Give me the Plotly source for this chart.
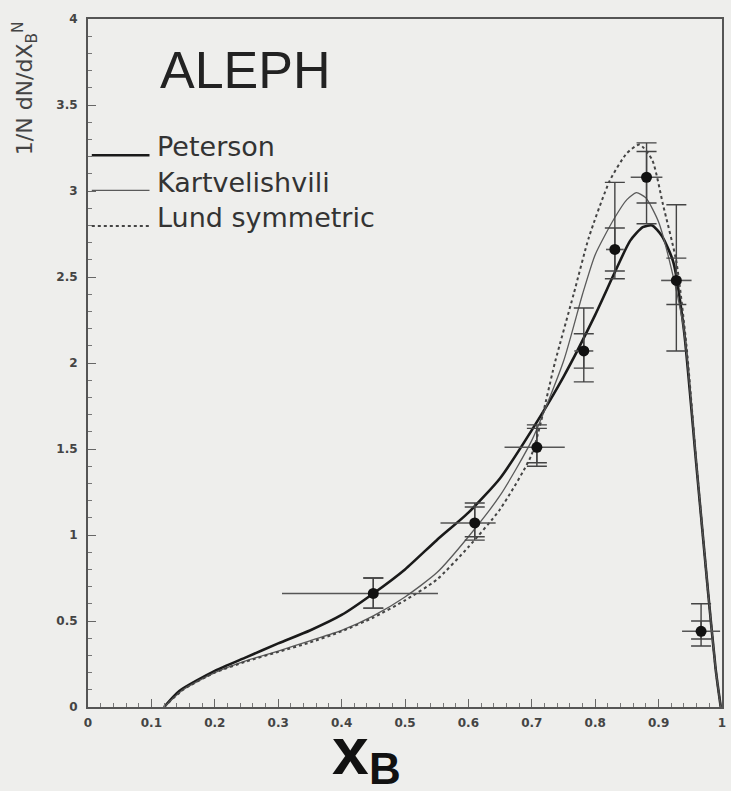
import plotly.graph_objects as go

# ---- measured data points (ALEPH) ----
xb = [0.45, 0.61, 0.708, 0.782, 0.831, 0.881, 0.928, 0.967]
yb = [0.66, 1.07, 1.51, 2.07, 2.66, 3.08, 2.48, 0.44]
x_lo = [0.144, 0.054, 0.051, 0.015, 0.014, 0.025, 0.024, 0.03]
x_hi = [0.102, 0.033, 0.044, 0.015, 0.014, 0.025, 0.024, 0.03]
stat_up = [0.09, 0.093, 0.11, 0.10, 0.125, 0.15, 0.13, 0.06]
stat_dn = [0.085, 0.08, 0.09, 0.10, 0.125, 0.15, 0.14, 0.045]
tot_up = [0.09, 0.116, 0.13, 0.25, 0.39, 0.20, 0.44, 0.16]
tot_dn = [0.085, 0.10, 0.11, 0.18, 0.17, 0.27, 0.41, 0.085]

# ---- model curves ----
pet_x = [0.12, 0.144, 0.2, 0.25, 0.3, 0.35, 0.4, 0.45, 0.5, 0.55, 0.6, 0.65, 0.7, 0.75,
         0.8, 0.83, 0.855, 0.875, 0.89, 0.905, 0.923, 0.94, 0.959, 0.978, 0.99, 0.998]
pet_y = [0.0, 0.093, 0.21, 0.29, 0.37, 0.445, 0.535, 0.66, 0.8, 0.97, 1.13, 1.33, 1.61, 1.92,
         2.28, 2.52, 2.71, 2.79, 2.80, 2.74, 2.59, 2.19, 1.43, 0.67, 0.22, 0.0]

kart_x = [0.12, 0.15, 0.2, 0.25, 0.3, 0.35, 0.4, 0.45, 0.5, 0.55, 0.6, 0.65, 0.7, 0.75, 0.78,
          0.8, 0.83, 0.85, 0.865, 0.88, 0.9, 0.92, 0.94, 0.96, 0.978, 0.99, 0.998]
kart_y = [0.0, 0.1, 0.2, 0.27, 0.325, 0.385, 0.445, 0.53, 0.64, 0.78, 0.99, 1.23, 1.55, 2.01, 2.4,
          2.63, 2.84, 2.95, 2.99, 2.96, 2.82, 2.55, 2.19, 1.4, 0.67, 0.22, 0.0]

lund_x = [0.12, 0.15, 0.2, 0.25, 0.3, 0.35, 0.4, 0.45, 0.5, 0.55, 0.6, 0.65, 0.7, 0.737, 0.766,
          0.79, 0.823, 0.85, 0.87, 0.89, 0.907, 0.928, 0.944, 0.96, 0.978, 0.99, 0.998]
lund_y = [0.0, 0.1, 0.2, 0.265, 0.32, 0.375, 0.44, 0.52, 0.62, 0.74, 0.93, 1.15, 1.47, 2.01, 2.40,
          2.73, 3.06, 3.22, 3.27, 3.18, 2.92, 2.59, 2.1, 1.4, 0.67, 0.22, 0.0]

legend_names = ["Peterson", "Kartvelishvili", "Lund symmetric"]

BG = "#eeeeec"
INK = "#333333"

fig = go.Figure()

fig.add_trace(go.Scatter(x=pet_x, y=pet_y, mode="lines", name=legend_names[0],
                         line=dict(color="#1a1a1a", width=2.6, shape="spline", smoothing=0.6)))
fig.add_trace(go.Scatter(x=kart_x, y=kart_y, mode="lines", name=legend_names[1],
                         line=dict(color="#5a5a5a", width=1.3, shape="spline", smoothing=0.6)))
fig.add_trace(go.Scatter(x=lund_x, y=lund_y, mode="lines", name=legend_names[2],
                         line=dict(color="#444444", width=2, dash="dot", shape="spline", smoothing=0.6)))

# total errors (outer caps)
fig.add_trace(go.Scatter(x=xb, y=yb, mode="markers", marker=dict(size=1, color="rgba(0,0,0,0)"),
                         error_y=dict(type="data", symmetric=False, array=tot_up, arrayminus=tot_dn,
                                      color="#444444", thickness=1.4, width=10),
                         showlegend=False))
# statistical errors (inner caps) + x bins
fig.add_trace(go.Scatter(x=xb, y=yb, mode="markers", marker=dict(size=11, color="#111111"),
                         error_y=dict(type="data", symmetric=False, array=stat_up, arrayminus=stat_dn,
                                      color="#444444", thickness=1.4, width=10),
                         error_x=dict(type="data", symmetric=False, array=x_hi, arrayminus=x_lo,
                                      color="#555555", thickness=1.6, width=0),
                         showlegend=False))

axis_common = dict(showline=True, linecolor="#555555", linewidth=2, mirror=True,
                   ticks="inside", ticklen=8, tickwidth=1, tickcolor="#666666",
                   showgrid=False, zeroline=False,
                   tickfont=dict(family="DejaVu Sans", size=12, color="#444444", weight="bold"))

fig.update_xaxes(range=[0, 1], dtick=0.1, tick0=0,
                 minor=dict(dtick=0.02, ticklen=4, ticks="inside", tickcolor="#777777"),
                 ticklabelstandoff=4,
                 **axis_common)
fig.update_yaxes(range=[0, 4], dtick=0.5, tick0=0,
                 minor=dict(dtick=0.1, ticklen=4, ticks="inside", tickcolor="#777777"),
                 ticklabelstandoff=6,
                 **axis_common)

shapes = []
leg_y = [0.802, 0.751, 0.699]
leg_style = [dict(color="#1a1a1a", width=2.6), dict(color="#5a5a5a", width=1.3),
             dict(color="#444444", width=2, dash="dot")]
annotations = []
for name, yy, st in zip(legend_names, leg_y, leg_style):
    shapes.append(dict(type="line", xref="paper", yref="paper", x0=0.006, x1=0.097,
                       y0=yy, y1=yy, line=st))
    annotations.append(dict(text=name, xref="paper", yref="paper", x=0.106, y=yy + 0.012,
                            xanchor="left", yanchor="middle", showarrow=False,
                            font=dict(family="DejaVu Sans", size=27, color=INK)))

annotations.append(dict(text="ALEPH", xref="paper", yref="paper", x=0.249, y=0.926,
                        xanchor="center", yanchor="middle", showarrow=False,
                        font=dict(family="Liberation Sans", size=52, color="#222222")))
# axis title x_B (drawn as main letter + subscript)
annotations.append(dict(text="<b>x</b>", xref="paper", yref="paper", x=0.414, y=-0.12,
                        xanchor="center", yanchor="bottom", showarrow=False,
                        font=dict(family="Liberation Sans", size=66, color="#111111")))
annotations.append(dict(text="<b>B</b>", xref="paper", yref="paper", x=0.469, y=-0.128,
                        xanchor="center", yanchor="bottom", showarrow=False,
                        font=dict(family="Liberation Sans", size=44, color="#111111")))
annotations.append(dict(text="1/N dN/dX<sub>B</sub><sup>N</sup>", xref="paper", yref="paper",
                        x=-0.099, y=1.0, xanchor="center", yanchor="top", textangle=-90,
                        showarrow=False,
                        font=dict(family="DejaVu Sans", size=22, color="#444444")))

fig.update_layout(width=731, height=791, margin=dict(l=88, r=5, t=19, b=84, pad=0),
                  paper_bgcolor=BG, plot_bgcolor=BG, showlegend=False,
                  shapes=shapes, annotations=annotations)

fig.write_html("out.html")
